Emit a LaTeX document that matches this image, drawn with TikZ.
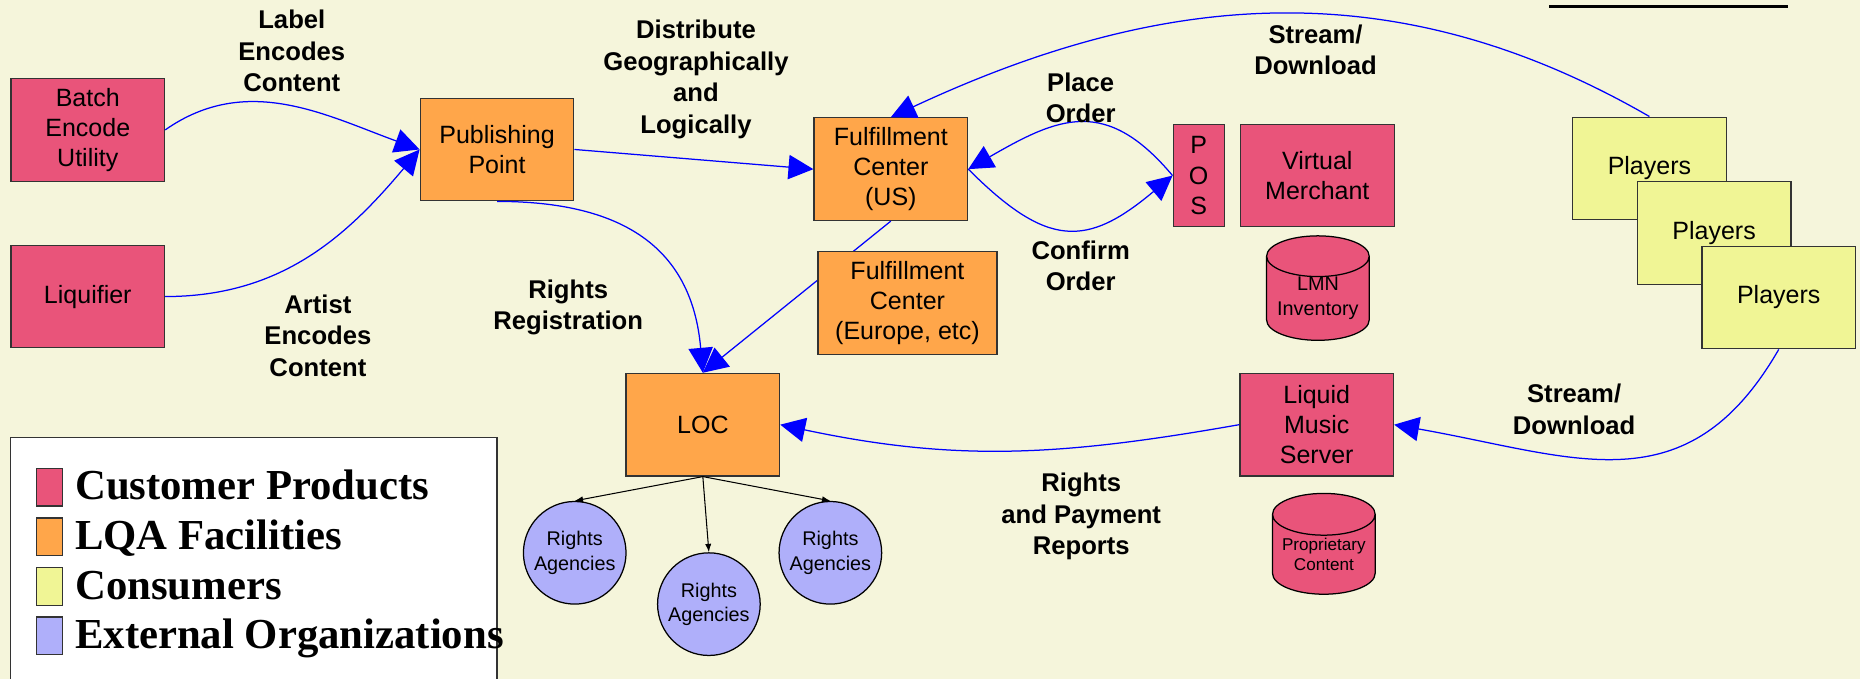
\documentclass[tikz,border=0pt]{standalone}
\usepackage{fontspec}
\setmainfont{Liberation Sans}
\newfontfamily\legendfont{Liberation Serif}
\usepackage{tikz}
\usetikzlibrary{shapes.geometric,arrows.meta}
\definecolor{bgcream}{RGB}{245,245,219}
\definecolor{prodpink}{RGB}{233,84,122}
\definecolor{lqaorange}{RGB}{255,166,74}
\definecolor{consyellow}{RGB}{240,245,149}
\definecolor{extblue}{RGB}{175,175,250}

\begin{document}
\begin{tikzpicture}[scale=0.2]
\tikzstyle{every node}+=[inner sep=0pt]
\tikzstyle{unit}=[draw=black!80, line width=0.6pt, minimum width=2.59cm, minimum height=1.73cm, align=center, font=\fontsize{12}{14.5}\selectfont]
\tikzstyle{product}=[unit, fill=prodpink]
\tikzstyle{facility}=[unit, fill=lqaorange]
\tikzstyle{consumer}=[unit, fill=consyellow]
\tikzstyle{store}=[cylinder, shape border rotate=90, draw=black, line width=0.6pt, fill=prodpink, aspect=0.5, minimum width=1.73cm, minimum height=1.7cm, align=center]
\tikzstyle{agency}=[circle, draw=black, line width=0.6pt, fill=extblue, minimum size=1.73cm, align=center, font=\fontsize{9.5}{11.7}\selectfont]
\tikzstyle{lbl}=[align=center, font=\bfseries\fontsize{12.3}{15.1}\selectfont]
\tikzstyle{flow}=[blue, line width=0.6pt, -{Triangle[length=0.42cm, width=0.41cm]}]
\tikzstyle{feed}=[black, line width=0.5pt, -{Latex[length=4pt, width=3pt]}]
\tikzstyle{key}=[draw=black!80, line width=0.6pt, minimum width=0.434cm, minimum height=0.636cm]
\tikzstyle{keytext}=[anchor=base west, font=\legendfont\bfseries\fontsize{20.5}{24}\selectfont]

\path [use as bounding box, clip] (0,0) rectangle (156.8,-57.2);
\fill [bgcream] (0,0) rectangle (156.8,-57.2);
\draw [line width=1.6pt] (130.6,-0.56) -- (150.7,-0.56);

\node [product] (batch) at (7.4,-10.95) {Batch\\Encode\\Utility};
\node [product] (liquifier) at (7.4,-25.0) {Liquifier};
\node [facility] (pubpoint) at (41.9,-12.6) {Publishing\\Point};
\node [facility] (fcus) at (75.1,-14.26) {Fulfillment\\Center\\(US)};
\node [facility] (loc) at (59.25,-35.8) {LOC};
\node [product, minimum width=0.86cm] (pos) at (101.05,-14.8) {P\\O\\S};
\node [product] (merchant) at (111.05,-14.8) {Virtual\\Merchant};
\node [store, font=\fontsize{9.5}{12}\selectfont] (lmn) at (111.1,-25.17) {LMN\\Inventory};
\node [consumer] (players1) at (139.05,-14.2) {Players};
\node [consumer] (players2) at (144.5,-19.65) {Players};
\node [consumer] (players3) at (149.95,-25.08) {Players};
\node [product] (lms) at (111.0,-35.8) {Liquid\\Music\\Server};
\node [store, font=\fontsize{8.2}{9.5}\selectfont] (propcontent) at (111.6,-46.75) {Proprietary\\Content};
\node [agency] (agency1) at (48.45,-46.6) {Rights\\Agencies};
\node [agency] (agency2) at (59.76,-50.93) {Rights\\Agencies};
\node [agency] (agency3) at (70.0,-46.6) {Rights\\Agencies};

\draw [flow] (batch.east) to [out=35,in=160] (pubpoint.west);
\draw [flow] (liquifier.east) .. controls +(0:9.7) and +(230:9.7) .. (pubpoint.west);
\draw [flow] (pubpoint.east) -- (fcus.west);
\draw [flow] (pubpoint.south) to [out=0,in=95,looseness=1.2] (loc.north);
\draw [flow] (fcus.south) -- (loc.north);
\node [facility, minimum width=3.02cm] (fceu) at (76.5,-25.54) {Fulfillment\\Center\\(Europe, etc)};
\draw [flow] (pos.west) to [out=130,in=30,looseness=1.3] (fcus.east);
\draw [flow] (fcus.east) to [out=-45,in=220,looseness=1.4] (pos.west);
\draw [flow] (players1.north) .. controls +(150:25) and +(25:25) .. (fcus.north);
\draw [flow] (players3.south) .. controls +(-120:15.5) and +(-10:15.5) .. (lms.east);
\draw [flow] (lms.west) .. controls +(190:15.2) and +(-12:15.2) .. (loc.east);
\draw [feed] (loc.south) -- (agency1.north);
\draw [feed] (loc.south) -- (agency2.north);
\draw [feed] (loc.south) -- (agency3.north);

\node [lbl] (lbllabel) at (24.6,-4.3) {Label\\Encodes\\Content};
\node [lbl] (lblartist) at (26.8,-28.3) {Artist\\Encodes\\Content};
\node [lbl] (lbldistribute) at (58.67,-6.7) {Distribute\\Geographically\\and\\Logically};
\node [lbl] (lblrights) at (47.9,-25.9) {Rights\\Registration};
\node [lbl] (lblplace) at (91.1,-8.25) {Place\\Order};
\node [lbl] (lblconfirm) at (91.1,-22.4) {Confirm\\Order};
\node [lbl] (lblstreamtop) at (110.9,-4.2) {Stream/\\Download};
\node [lbl] (lblstreamright) at (132.7,-34.5) {Stream/\\Download};
\node [lbl] (lblreports) at (91.15,-43.56) {Rights\\and Payment\\Reports};

\draw [black!80, line width=0.6pt, fill=white] (0.9,-36.9) rectangle (41.9,-60);
\node [key, fill=prodpink] (keyprod) at (4.16,-41.07) {};
\node [key, fill=lqaorange] (keylqa) at (4.16,-45.26) {};
\node [key, fill=consyellow] (keycons) at (4.16,-49.46) {};
\node [key, fill=extblue] (keyext) at (4.16,-53.6) {};
\node [keytext] (txtprod) at (6.3,-42.1) {Customer Products};
\node [keytext] (txtlqa) at (6.3,-46.3) {LQA Facilities};
\node [keytext] (txtcons) at (6.3,-50.5) {Consumers};
\node [keytext] (txtext) at (6.3,-54.65) {External Organizations};
\end{tikzpicture}
\end{document}
